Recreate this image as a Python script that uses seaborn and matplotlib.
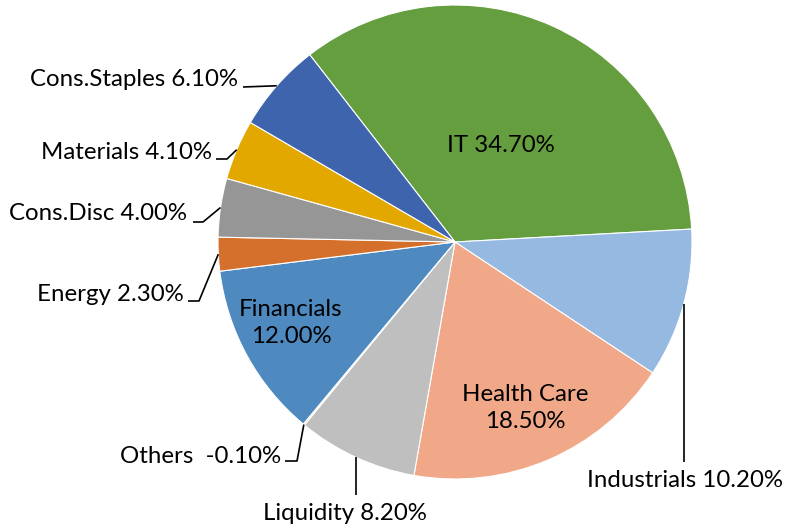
import numpy as np
import matplotlib
matplotlib.use("Agg")
import matplotlib.pyplot as plt
import seaborn as sns

# -----------------------------
# Data (clockwise from the IT slice)
# -----------------------------
sectors = ["IT", "Industrials", "Health Care", "Liquidity", "Others",
           "Financials", "Energy", "Cons.Disc", "Materials", "Cons.Staples"]
weights = [34.7, 10.2, 18.5, 8.2, -0.1, 12.0, 2.3, 4.0, 4.1, 6.1]
colors = ["#659E3F", "#95B9E1", "#F0A889", "#BFBFBF", "#FFD966",
          "#4E89C0", "#D4702B", "#969696", "#E2A800", "#3E64AE"]

# -----------------------------
# Layout (pixel positions of the 804x526 picture)
# -----------------------------
W, H = 804, 526
CX, CY, R = 455, 242, 237


def px(x, y):
    return (x - CX) / R, (CY - y) / R


inside = {
    "IT": (501, 146),
    "Financials": (291, 323),
    "Health Care": (525, 408),
}
outside = {
    "Industrials": dict(text=(685, 481), ha="center", vert=462),
    "Liquidity": dict(text=(345, 514), ha="center", vert=495),
    "Others": dict(text=(281, 457), ha="right", path=[(297, 461), (285, 461)]),
    "Energy": dict(text=(184, 295), ha="right", path=[(199, 301), (188, 301)]),
    "Cons.Disc": dict(text=(187, 214), ha="right", path=[(203, 222), (193, 222)]),
    "Materials": dict(text=(212, 153), ha="right", path=[(227, 159), (216, 159)]),
    "Cons.Staples": dict(text=(238, 80), ha="right", path=[(243, 87)]),
}

# -----------------------------
# Plot
# -----------------------------
sns.set_theme(style="white")
plt.rcParams["font.family"] = ["Lato", "DejaVu Sans"]
FS = 17.3

fig = plt.figure(figsize=(W / 100, H / 100), dpi=100)
ax = fig.add_axes([0, 0, 1, 1])

wedges, _ = ax.pie(
    np.abs(weights),
    colors=colors,
    startangle=127.8,
    counterclock=False,
    radius=1,
    wedgeprops=dict(edgecolor="white", linewidth=0.8),
)

for name, val, w in zip(sectors, weights, wedges):
    sep = "  " if val < 0 else " "
    if name in inside:
        x, y = px(*inside[name])
        joiner = " " if name == "IT" else "\n"
        ax.text(x, y, f"{name}{joiner}{val:.2f}%", ha="center", va="center",
                fontsize=FS, color="black", linespacing=1.35)
        continue
    cfg = outside[name]
    mid = np.deg2rad((w.theta1 + w.theta2) / 2)
    ax0, ay0 = np.cos(mid), np.sin(mid)
    if "vert" in cfg:
        xs = [ax0, ax0]
        ys = [ay0, px(0, cfg["vert"])[1]]
    else:
        pts = [px(*p) for p in cfg["path"]]
        xs = [ax0] + [p[0] for p in pts]
        ys = [ay0] + [p[1] for p in pts]
    ax.plot(xs, ys, color="black", linewidth=1.2, solid_capstyle="butt")
    tx, ty = px(*cfg["text"])
    ax.text(tx, ty, f"{name}{sep}{val:.2f}%", ha=cfg["ha"], va="center",
            fontsize=FS, color="black")

ax.set_xlim(-CX / R, (W - CX) / R)
ax.set_ylim((CY - H) / R, CY / R)
ax.set_aspect("auto")
ax.axis("off")

plt.savefig("out.png", dpi=100)
plt.close()
